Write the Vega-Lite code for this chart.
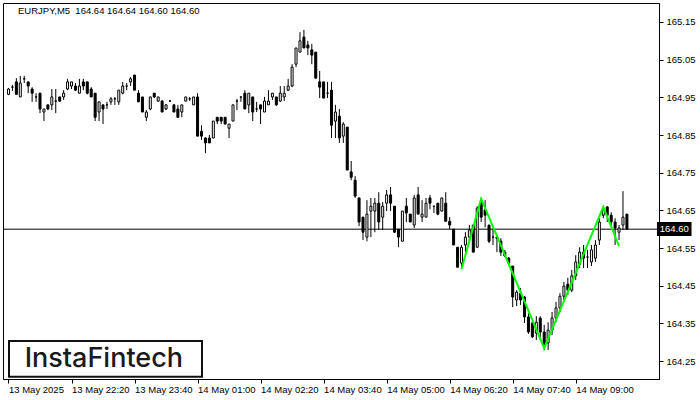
{
"$schema":"https://vega.github.io/schema/vega-lite/v6.json",
"width":656,"height":376,
"autosize":{"type":"none"},
"padding":{"left":3,"top":3,"right":41,"bottom":21},
"background":"white",
"title":{"text":"EURJPY,M5\u00a0 164.64 164.64 164.60 164.60","anchor":"start","frame":"group","orient":"top","offset":-17,"dx":15,"baseline":"middle","font":"Liberation Sans","fontSize":9.5,"fontWeight":"normal","color":"black"},
"config":{"view":{"stroke":"black","strokeWidth":1},"axis":{"grid":false,"title":null,"labelFont":"Liberation Sans","labelFontSize":9.5,"labelColor":"black","tickColor":"black","domainColor":"black","tickSize":4}},
"datasets":{
"bars":[
{"t":"2025-05-13T21:00:00Z","o":164.958,"h":164.975,"l":164.956,"c":164.972},
{"t":"2025-05-13T21:05:00Z","o":164.977,"h":164.983,"l":164.967,"c":164.977},
{"t":"2025-05-13T21:10:00Z","o":164.991,"h":165.001,"l":164.958,"c":164.958},
{"t":"2025-05-13T21:15:00Z","o":164.951,"h":165.007,"l":164.951,"c":164.988},
{"t":"2025-05-13T21:20:00Z","o":164.999,"h":165.007,"l":164.988,"c":164.999},
{"t":"2025-05-13T21:25:00Z","o":164.991,"h":164.991,"l":164.961,"c":164.980},
{"t":"2025-05-13T21:30:00Z","o":164.972,"h":164.977,"l":164.938,"c":164.961},
{"t":"2025-05-13T21:35:00Z","o":164.951,"h":164.961,"l":164.938,"c":164.951},
{"t":"2025-05-13T21:40:00Z","o":164.961,"h":164.961,"l":164.908,"c":164.919},
{"t":"2025-05-13T21:45:00Z","o":164.911,"h":164.919,"l":164.887,"c":164.919},
{"t":"2025-05-13T21:50:00Z","o":164.930,"h":164.930,"l":164.916,"c":164.919},
{"t":"2025-05-13T21:55:00Z","o":164.930,"h":164.972,"l":164.916,"c":164.951},
{"t":"2025-05-13T22:00:00Z","o":164.940,"h":164.972,"l":164.908,"c":164.940},
{"t":"2025-05-13T22:05:00Z","o":164.951,"h":164.951,"l":164.938,"c":164.940},
{"t":"2025-05-13T22:10:00Z","o":164.951,"h":164.969,"l":164.943,"c":164.961},
{"t":"2025-05-13T22:15:00Z","o":164.972,"h":164.999,"l":164.969,"c":164.991},
{"t":"2025-05-13T22:20:00Z","o":164.980,"h":164.991,"l":164.972,"c":164.991},
{"t":"2025-05-13T22:25:00Z","o":164.980,"h":164.988,"l":164.967,"c":164.969},
{"t":"2025-05-13T22:30:00Z","o":164.961,"h":164.999,"l":164.961,"c":164.980},
{"t":"2025-05-13T22:35:00Z","o":164.991,"h":164.999,"l":164.969,"c":164.980},
{"t":"2025-05-13T22:40:00Z","o":164.991,"h":164.991,"l":164.958,"c":164.961},
{"t":"2025-05-13T22:45:00Z","o":164.972,"h":164.977,"l":164.951,"c":164.951},
{"t":"2025-05-13T22:50:00Z","o":164.961,"h":164.961,"l":164.887,"c":164.897},
{"t":"2025-05-13T22:55:00Z","o":164.911,"h":164.938,"l":164.887,"c":164.938},
{"t":"2025-05-13T23:00:00Z","o":164.930,"h":164.930,"l":164.879,"c":164.919},
{"t":"2025-05-13T23:05:00Z","o":164.930,"h":164.938,"l":164.919,"c":164.930},
{"t":"2025-05-13T23:10:00Z","o":164.938,"h":164.951,"l":164.930,"c":164.946},
{"t":"2025-05-13T23:15:00Z","o":164.946,"h":164.951,"l":164.930,"c":164.946},
{"t":"2025-05-13T23:20:00Z","o":164.938,"h":164.969,"l":164.930,"c":164.969},
{"t":"2025-05-13T23:25:00Z","o":164.961,"h":164.991,"l":164.958,"c":164.980},
{"t":"2025-05-13T23:30:00Z","o":164.980,"h":164.988,"l":164.969,"c":164.980},
{"t":"2025-05-13T23:35:00Z","o":164.991,"h":165.004,"l":164.980,"c":164.999},
{"t":"2025-05-13T23:40:00Z","o":165.009,"h":165.009,"l":164.969,"c":164.969},
{"t":"2025-05-13T23:45:00Z","o":164.961,"h":164.969,"l":164.938,"c":164.938},
{"t":"2025-05-13T23:50:00Z","o":164.951,"h":164.951,"l":164.911,"c":164.911},
{"t":"2025-05-13T23:55:00Z","o":164.897,"h":164.916,"l":164.887,"c":164.911},
{"t":"2025-05-14T00:00:00Z","o":164.919,"h":164.951,"l":164.916,"c":164.951},
{"t":"2025-05-14T00:05:00Z","o":164.961,"h":164.961,"l":164.948,"c":164.951},
{"t":"2025-05-14T00:10:00Z","o":164.940,"h":164.951,"l":164.938,"c":164.951},
{"t":"2025-05-14T00:15:00Z","o":164.940,"h":164.943,"l":164.911,"c":164.911},
{"t":"2025-05-14T00:20:00Z","o":164.919,"h":164.932,"l":164.916,"c":164.930},
{"t":"2025-05-14T00:25:00Z","o":164.940,"h":164.943,"l":164.938,"c":164.940},
{"t":"2025-05-14T00:30:00Z","o":164.930,"h":164.932,"l":164.911,"c":164.911},
{"t":"2025-05-14T00:35:00Z","o":164.919,"h":164.930,"l":164.897,"c":164.897},
{"t":"2025-05-14T00:40:00Z","o":164.911,"h":164.930,"l":164.897,"c":164.930},
{"t":"2025-05-14T00:45:00Z","o":164.940,"h":164.951,"l":164.940,"c":164.951},
{"t":"2025-05-14T00:50:00Z","o":164.946,"h":164.951,"l":164.940,"c":164.946},
{"t":"2025-05-14T00:55:00Z","o":164.930,"h":164.951,"l":164.930,"c":164.951},
{"t":"2025-05-14T01:00:00Z","o":164.951,"h":164.961,"l":164.847,"c":164.847},
{"t":"2025-05-14T01:05:00Z","o":164.860,"h":164.876,"l":164.837,"c":164.847},
{"t":"2025-05-14T01:10:00Z","o":164.842,"h":164.844,"l":164.802,"c":164.829},
{"t":"2025-05-14T01:15:00Z","o":164.842,"h":164.850,"l":164.829,"c":164.829},
{"t":"2025-05-14T01:20:00Z","o":164.842,"h":164.887,"l":164.842,"c":164.887},
{"t":"2025-05-14T01:25:00Z","o":164.897,"h":164.897,"l":164.879,"c":164.887},
{"t":"2025-05-14T01:30:00Z","o":164.897,"h":164.897,"l":164.879,"c":164.887},
{"t":"2025-05-14T01:35:00Z","o":164.897,"h":164.897,"l":164.879,"c":164.879},
{"t":"2025-05-14T01:40:00Z","o":164.868,"h":164.879,"l":164.842,"c":164.879},
{"t":"2025-05-14T01:45:00Z","o":164.887,"h":164.930,"l":164.887,"c":164.930},
{"t":"2025-05-14T01:50:00Z","o":164.940,"h":164.946,"l":164.916,"c":164.940},
{"t":"2025-05-14T01:55:00Z","o":164.951,"h":164.951,"l":164.938,"c":164.951},
{"t":"2025-05-14T02:00:00Z","o":164.961,"h":164.969,"l":164.919,"c":164.919},
{"t":"2025-05-14T02:05:00Z","o":164.930,"h":164.961,"l":164.908,"c":164.961},
{"t":"2025-05-14T02:10:00Z","o":164.951,"h":164.951,"l":164.887,"c":164.911},
{"t":"2025-05-14T02:15:00Z","o":164.919,"h":164.938,"l":164.911,"c":164.919},
{"t":"2025-05-14T02:20:00Z","o":164.930,"h":164.930,"l":164.879,"c":164.919},
{"t":"2025-05-14T02:25:00Z","o":164.911,"h":164.951,"l":164.911,"c":164.940},
{"t":"2025-05-14T02:30:00Z","o":164.930,"h":164.969,"l":164.930,"c":164.940},
{"t":"2025-05-14T02:35:00Z","o":164.951,"h":164.961,"l":164.943,"c":164.961},
{"t":"2025-05-14T02:40:00Z","o":164.951,"h":164.951,"l":164.927,"c":164.930},
{"t":"2025-05-14T02:45:00Z","o":164.940,"h":164.980,"l":164.938,"c":164.961},
{"t":"2025-05-14T02:50:00Z","o":164.951,"h":164.980,"l":164.940,"c":164.961},
{"t":"2025-05-14T02:55:00Z","o":164.969,"h":164.999,"l":164.967,"c":164.980},
{"t":"2025-05-14T03:00:00Z","o":164.980,"h":165.038,"l":164.977,"c":165.030},
{"t":"2025-05-14T03:05:00Z","o":165.038,"h":165.081,"l":165.030,"c":165.081},
{"t":"2025-05-14T03:10:00Z","o":165.070,"h":165.123,"l":165.070,"c":165.100},
{"t":"2025-05-14T03:15:00Z","o":165.110,"h":165.129,"l":165.081,"c":165.081},
{"t":"2025-05-14T03:20:00Z","o":165.089,"h":165.100,"l":165.062,"c":165.081},
{"t":"2025-05-14T03:25:00Z","o":165.076,"h":165.092,"l":165.038,"c":165.062},
{"t":"2025-05-14T03:30:00Z","o":165.070,"h":165.070,"l":164.999,"c":165.001},
{"t":"2025-05-14T03:35:00Z","o":164.991,"h":165.020,"l":164.948,"c":164.977},
{"t":"2025-05-14T03:40:00Z","o":164.991,"h":164.991,"l":164.948,"c":164.948},
{"t":"2025-05-14T03:45:00Z","o":164.961,"h":164.991,"l":164.948,"c":164.961},
{"t":"2025-05-14T03:50:00Z","o":164.969,"h":164.991,"l":164.842,"c":164.876},
{"t":"2025-05-14T03:55:00Z","o":164.887,"h":164.930,"l":164.842,"c":164.911},
{"t":"2025-05-14T04:00:00Z","o":164.900,"h":164.919,"l":164.829,"c":164.842},
{"t":"2025-05-14T04:05:00Z","o":164.847,"h":164.884,"l":164.829,"c":164.879},
{"t":"2025-05-14T04:10:00Z","o":164.871,"h":164.871,"l":164.757,"c":164.757},
{"t":"2025-05-14T04:15:00Z","o":164.752,"h":164.781,"l":164.730,"c":164.738},
{"t":"2025-05-14T04:20:00Z","o":164.730,"h":164.741,"l":164.683,"c":164.688},
{"t":"2025-05-14T04:25:00Z","o":164.683,"h":164.683,"l":164.608,"c":164.619},
{"t":"2025-05-14T04:30:00Z","o":164.632,"h":164.632,"l":164.571,"c":164.592},
{"t":"2025-05-14T04:35:00Z","o":164.579,"h":164.677,"l":164.568,"c":164.640},
{"t":"2025-05-14T04:40:00Z","o":164.648,"h":164.683,"l":164.579,"c":164.661},
{"t":"2025-05-14T04:45:00Z","o":164.648,"h":164.683,"l":164.592,"c":164.669},
{"t":"2025-05-14T04:50:00Z","o":164.669,"h":164.698,"l":164.598,"c":164.619},
{"t":"2025-05-14T04:55:00Z","o":164.632,"h":164.672,"l":164.598,"c":164.661},
{"t":"2025-05-14T05:00:00Z","o":164.669,"h":164.704,"l":164.648,"c":164.691},
{"t":"2025-05-14T05:05:00Z","o":164.691,"h":164.712,"l":164.648,"c":164.669},
{"t":"2025-05-14T05:10:00Z","o":164.661,"h":164.661,"l":164.590,"c":164.592},
{"t":"2025-05-14T05:15:00Z","o":164.600,"h":164.600,"l":164.552,"c":164.579},
{"t":"2025-05-14T05:20:00Z","o":164.568,"h":164.648,"l":164.568,"c":164.648},
{"t":"2025-05-14T05:25:00Z","o":164.661,"h":164.683,"l":164.619,"c":164.643},
{"t":"2025-05-14T05:30:00Z","o":164.640,"h":164.640,"l":164.619,"c":164.619},
{"t":"2025-05-14T05:35:00Z","o":164.611,"h":164.691,"l":164.603,"c":164.683},
{"t":"2025-05-14T05:40:00Z","o":164.691,"h":164.712,"l":164.640,"c":164.640},
{"t":"2025-05-14T05:45:00Z","o":164.632,"h":164.677,"l":164.619,"c":164.640},
{"t":"2025-05-14T05:50:00Z","o":164.632,"h":164.683,"l":164.632,"c":164.669},
{"t":"2025-05-14T05:55:00Z","o":164.683,"h":164.691,"l":164.653,"c":164.669},
{"t":"2025-05-14T06:00:00Z","o":164.661,"h":164.661,"l":164.643,"c":164.661},
{"t":"2025-05-14T06:05:00Z","o":164.669,"h":164.669,"l":164.637,"c":164.640},
{"t":"2025-05-14T06:10:00Z","o":164.648,"h":164.683,"l":164.648,"c":164.683},
{"t":"2025-05-14T06:15:00Z","o":164.669,"h":164.698,"l":164.621,"c":164.621},
{"t":"2025-05-14T06:20:00Z","o":164.621,"h":164.632,"l":164.600,"c":164.611},
{"t":"2025-05-14T06:25:00Z","o":164.600,"h":164.600,"l":164.558,"c":164.558},
{"t":"2025-05-14T06:30:00Z","o":164.552,"h":164.552,"l":164.499,"c":164.499},
{"t":"2025-05-14T06:35:00Z","o":164.510,"h":164.558,"l":164.499,"c":164.552},
{"t":"2025-05-14T06:40:00Z","o":164.558,"h":164.592,"l":164.539,"c":164.579},
{"t":"2025-05-14T06:45:00Z","o":164.579,"h":164.611,"l":164.563,"c":164.598},
{"t":"2025-05-14T06:50:00Z","o":164.611,"h":164.611,"l":164.539,"c":164.539},
{"t":"2025-05-14T06:55:00Z","o":164.552,"h":164.661,"l":164.552,"c":164.656},
{"t":"2025-05-14T07:00:00Z","o":164.672,"h":164.683,"l":164.619,"c":164.632},
{"t":"2025-05-14T07:05:00Z","o":164.651,"h":164.677,"l":164.605,"c":164.637},
{"t":"2025-05-14T07:10:00Z","o":164.611,"h":164.611,"l":164.563,"c":164.568},
{"t":"2025-05-14T07:15:00Z","o":164.579,"h":164.603,"l":164.558,"c":164.579},
{"t":"2025-05-14T07:20:00Z","o":164.579,"h":164.585,"l":164.539,"c":164.576},
{"t":"2025-05-14T07:25:00Z","o":164.568,"h":164.576,"l":164.529,"c":164.539},
{"t":"2025-05-14T07:30:00Z","o":164.539,"h":164.545,"l":164.526,"c":164.529},
{"t":"2025-05-14T07:35:00Z","o":164.523,"h":164.526,"l":164.505,"c":164.510},
{"t":"2025-05-14T07:40:00Z","o":164.502,"h":164.502,"l":164.393,"c":164.420},
{"t":"2025-05-14T07:45:00Z","o":164.412,"h":164.438,"l":164.396,"c":164.433},
{"t":"2025-05-14T07:50:00Z","o":164.430,"h":164.444,"l":164.399,"c":164.412},
{"t":"2025-05-14T07:55:00Z","o":164.420,"h":164.422,"l":164.351,"c":164.367},
{"t":"2025-05-14T08:00:00Z","o":164.367,"h":164.377,"l":164.322,"c":164.327},
{"t":"2025-05-14T08:05:00Z","o":164.351,"h":164.364,"l":164.311,"c":164.314},
{"t":"2025-05-14T08:10:00Z","o":164.324,"h":164.369,"l":164.306,"c":164.353},
{"t":"2025-05-14T08:15:00Z","o":164.364,"h":164.369,"l":164.306,"c":164.327},
{"t":"2025-05-14T08:20:00Z","o":164.327,"h":164.346,"l":164.279,"c":164.293},
{"t":"2025-05-14T08:25:00Z","o":164.298,"h":164.353,"l":164.279,"c":164.332},
{"t":"2025-05-14T08:30:00Z","o":164.332,"h":164.380,"l":164.319,"c":164.364},
{"t":"2025-05-14T08:35:00Z","o":164.364,"h":164.407,"l":164.353,"c":164.391},
{"t":"2025-05-14T08:40:00Z","o":164.391,"h":164.430,"l":164.380,"c":164.422},
{"t":"2025-05-14T08:45:00Z","o":164.422,"h":164.460,"l":164.412,"c":164.449},
{"t":"2025-05-14T08:50:00Z","o":164.454,"h":164.471,"l":164.425,"c":164.438},
{"t":"2025-05-14T08:55:00Z","o":164.438,"h":164.492,"l":164.433,"c":164.476},
{"t":"2025-05-14T09:00:00Z","o":164.476,"h":164.531,"l":164.465,"c":164.513},
{"t":"2025-05-14T09:05:00Z","o":164.507,"h":164.552,"l":164.497,"c":164.539},
{"t":"2025-05-14T09:10:00Z","o":164.539,"h":164.558,"l":164.497,"c":164.523},
{"t":"2025-05-14T09:15:00Z","o":164.526,"h":164.545,"l":164.497,"c":164.526},
{"t":"2025-05-14T09:20:00Z","o":164.513,"h":164.558,"l":164.502,"c":164.545},
{"t":"2025-05-14T09:25:00Z","o":164.523,"h":164.571,"l":164.513,"c":164.558},
{"t":"2025-05-14T09:30:00Z","o":164.571,"h":164.629,"l":164.558,"c":164.619},
{"t":"2025-05-14T09:35:00Z","o":164.637,"h":164.661,"l":164.629,"c":164.651},
{"t":"2025-05-14T09:40:00Z","o":164.659,"h":164.661,"l":164.619,"c":164.637},
{"t":"2025-05-14T09:45:00Z","o":164.637,"h":164.645,"l":164.611,"c":164.619},
{"t":"2025-05-14T09:50:00Z","o":164.619,"h":164.629,"l":164.558,"c":164.603},
{"t":"2025-05-14T09:55:00Z","o":164.592,"h":164.611,"l":164.571,"c":164.603},
{"t":"2025-05-14T10:00:00Z","o":164.611,"h":164.701,"l":164.598,"c":164.632},
{"t":"2025-05-14T10:05:00Z","o":164.640,"h":164.640,"l":164.600,"c":164.600}
],
"pattern":[
{"t":"2025-05-14T06:35:00Z","p":164.494},
{"t":"2025-05-14T07:00:00Z","p":164.681},
{"t":"2025-05-14T08:20:00Z","p":164.284},
{"t":"2025-05-14T09:35:00Z","p":164.659},
{"t":"2025-05-14T09:55:00Z","p":164.555}
],
"last":[{"p":164.60}],
"brand":[{"name":"InstaFintech"}]
},
"layer":[
{"data":{"name":"last"},"mark":{"type":"rule","color":"black","strokeWidth":1},
 "encoding":{"y":{"field":"p","type":"quantitative"}}},
{"data":{"name":"bars"},"mark":{"type":"rule","color":"black","strokeWidth":1},
 "encoding":{
  "x":{"field":"t","type":"temporal","scale":{"type":"utc","nice":false,"domain":[{"year":2025,"month":5,"date":13,"hours":20,"minutes":59,"seconds":22,"milliseconds":500,"utc":true},{"year":2025,"month":5,"date":14,"hours":10,"minutes":39,"seconds":22,"milliseconds":500,"utc":true}]},
   "axis":{"title":null,"values":[
    {"year":2025,"month":5,"date":13,"hours":21,"minutes":0,"utc":true},
    {"year":2025,"month":5,"date":13,"hours":22,"minutes":20,"utc":true},
    {"year":2025,"month":5,"date":13,"hours":23,"minutes":40,"utc":true},
    {"year":2025,"month":5,"date":14,"hours":1,"minutes":0,"utc":true},
    {"year":2025,"month":5,"date":14,"hours":2,"minutes":20,"utc":true},
    {"year":2025,"month":5,"date":14,"hours":3,"minutes":40,"utc":true},
    {"year":2025,"month":5,"date":14,"hours":5,"minutes":0,"utc":true},
    {"year":2025,"month":5,"date":14,"hours":6,"minutes":20,"utc":true},
    {"year":2025,"month":5,"date":14,"hours":7,"minutes":40,"utc":true},
    {"year":2025,"month":5,"date":14,"hours":9,"minutes":0,"utc":true}],
    "labelExpr":"utcFormat(datum.value, '%H:%M') == '21:00' ? '13 May 2025' : utcFormat(datum.value, '%d %b %H:%M')",
    "labelAlign":"left","labelBaseline":"top","labelPadding":1,"labelOverlap":false,"labelFlush":false,"labelBound":false}},
  "y":{"field":"h","type":"quantitative","scale":{"domain":[164.2023,165.2004],"zero":false,"nice":false},
   "axis":{"title":null,"orient":"right","values":[164.25,164.35,164.45,164.55,164.65,164.75,164.85,164.95,165.05,165.15],"format":".2f","labelPadding":3,"labelAlign":"left","labelOverlap":false}},
  "y2":{"field":"l"}}},
{"data":{"name":"bars"},"mark":{"type":"bar","size":2,"stroke":"black","strokeWidth":1},
 "encoding":{
  "x":{"field":"t","type":"temporal"},
  "y":{"field":"o","type":"quantitative"},
  "y2":{"field":"c"},
  "fill":{"condition":{"test":"datum.c < datum.o","value":"black"},"value":"white"}}},
{"data":{"name":"pattern"},"mark":{"type":"line","color":"#00ff00","strokeWidth":2},
 "encoding":{"x":{"field":"t","type":"temporal"},"y":{"field":"p","type":"quantitative"}}},
{"data":{"name":"last"},"mark":{"type":"rect","color":"black","clip":false},
 "encoding":{
  "x":{"datum":{"year":2025,"month":5,"date":14,"hours":10,"minutes":43,"seconds":8,"utc":true},"type":"temporal"},
  "x2":{"datum":{"year":2025,"month":5,"date":14,"hours":11,"minutes":27,"utc":true}},
  "y":{"datum":164.619,"type":"quantitative"},
  "y2":{"datum":164.582}}},
{"data":{"name":"last"},"mark":{"type":"text","color":"white","font":"Liberation Sans","fontSize":9.5,"align":"center","baseline":"middle","clip":false},
 "encoding":{
  "x":{"datum":{"year":2025,"month":5,"date":14,"hours":11,"minutes":5,"utc":true},"type":"temporal"},
  "y":{"field":"p","type":"quantitative"},
  "text":{"field":"p","type":"quantitative","format":".2f"}}},
{"data":{"name":"brand"},"mark":{"type":"rect","fill":"white","stroke":"#111111","strokeWidth":2},
 "encoding":{
  "x":{"datum":{"year":2025,"month":5,"date":13,"hours":21,"minutes":0,"seconds":38,"utc":true},"type":"temporal"},
  "x2":{"datum":{"year":2025,"month":5,"date":14,"hours":1,"minutes":5,"seconds":38,"utc":true}},
  "y":{"datum":164.303,"type":"quantitative"},
  "y2":{"datum":164.208}}},
{"data":{"name":"brand"},"mark":{"type":"text","font":"Inter","fontSize":27,"fontWeight":500,"color":"#1a1a1a","align":"center","baseline":"middle"},
 "encoding":{
  "x":{"datum":{"year":2025,"month":5,"date":13,"hours":23,"minutes":1,"utc":true},"type":"temporal"},
  "y":{"datum":164.256,"type":"quantitative"},
  "text":{"field":"name"}}}
]
}
